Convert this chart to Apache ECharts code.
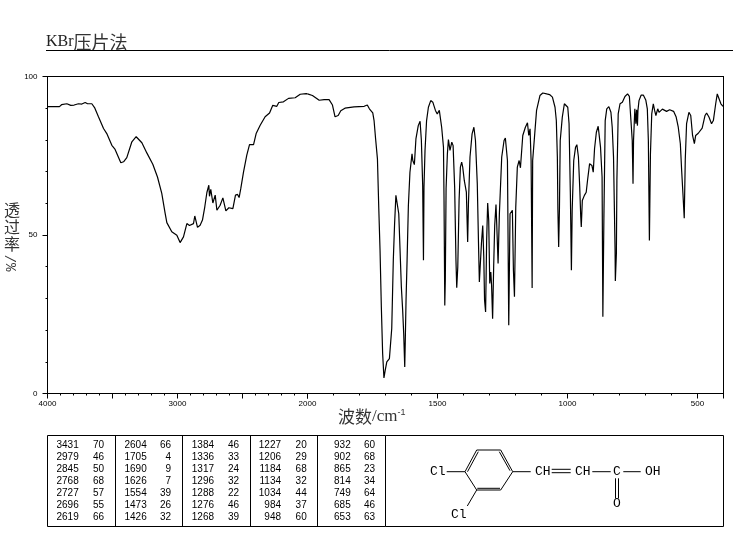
<!DOCTYPE html>
<html><head><meta charset="utf-8">
<style>html,body{margin:0;padding:0;background:#fff}#c{width:737px;height:539px}</style>
<script src="https://cdn.jsdelivr.net/npm/echarts@6/dist/echarts.min.js"></script>
</head><body><div id="c"></div>
<script>
// [wavenumber cm-1, transmittance %]
const spectrumHigh = [[4000,90.5],[3908,90.5],[3892,91.1],[3851,91.4],[3838,91.2],[3821,90.9],[3795,91.0],[3762,91.4],[3736,91.3],[3710,91.8],[3692,91.4],[3659,91.4],[3638,90.2],[3608,87.3],[3569,83.6],[3544,82.0],[3505,78.3],[3480,77.0],[3436,72.8],[3415,73.1],[3390,74.4],[3351,79.4],[3318,81.0],[3274,79.1],[3236,75.9],[3190,72.3],[3154,68.3],[3121,63.1],[3095,56.8],[3082,53.9],[3044,51.0],[3005,49.9],[2980,47.6],[2954,49.4],[2928,53.6],[2908,53.0],[2877,53.6],[2867,56.0],[2856,55.7],[2846,52.4],[2826,53.1],[2808,54.7],[2790,58.9],[2774,63.4],[2762,63.9],[2759,65.7],[2754,62.2],[2744,64.4],[2728,60.1],[2718,59.8],[2710,62.6],[2697,57.8],[2672,59.4],[2651,61.7],[2641,61.7],[2628,57.6],[2618,57.1],[2605,58.6],[2574,58.3],[2554,62.6],[2538,62.8],[2526,61.8],[2513,64.7],[2492,69.9],[2467,75.2],[2446,78.5],[2415,78.5],[2395,82.0],[2364,84.6],[2326,87.3],[2292,88.5],[2267,90.9],[2236,90.6],[2221,91.8],[2185,92.0],[2146,93.1],[2095,93.3],[2056,94.4],[2010,94.6],[2000,94.5]];
const spectrumLow = [[2000,94.5],[1981,94.0],[1955,92.5],[1936,92.7],[1917,92.7],[1904,91.0],[1894,87.3],[1882,87.7],[1872,89.2],[1856,90.0],[1821,90.4],[1782,90.6],[1770,91.0],[1762,89.8],[1749,88.5],[1744,86.1],[1738,80.3],[1731,74.0],[1726,58.8],[1721,45.2],[1716,27.3],[1711,12.6],[1706,4.9],[1701,7.4],[1695,10.0],[1685,11.0],[1676,20.5],[1670,42.0],[1665,53.6],[1660,62.5],[1654,62.5],[1649,56.7],[1644,45.2],[1639,33.6],[1634,26.3],[1630,18.9],[1626,8.4],[1624,16.3],[1621,29.4],[1617,42.0],[1612,59.3],[1606,69.8],[1598,75.6],[1595,73.5],[1589,72.2],[1583,80.3],[1574,84.5],[1567,85.9],[1562,79.8],[1557,65.6],[1554,42.0],[1552,65.1],[1548,76.7],[1542,86.1],[1535,90.3],[1526,92.4],[1518,91.9],[1508,89.3],[1501,88.2],[1493,89.3],[1484,84.0],[1477,77.7],[1475,62.0],[1472,27.8],[1470,35.7],[1467,64.6],[1462,75.6],[1458,80.1],[1452,76.7],[1445,79.3],[1440,78.2],[1434,65.1],[1429,42.0],[1426,33.4],[1422,39.9],[1417,60.9],[1412,71.4],[1407,73.0],[1403,71.4],[1397,67.2],[1389,63.5],[1384,47.8],[1381,59.9],[1375,74.6],[1367,81.9],[1360,84.0],[1354,79.8],[1347,66.2],[1342,46.2],[1339,35.2],[1334,34.7],[1331,47.3],[1326,53.0],[1322,43.1],[1319,29.4],[1315,25.7],[1311,48.3],[1307,60.1],[1303,54.6],[1299,34.7],[1295,38.3],[1292,34.1],[1288,23.6],[1284,39.9],[1280,53.0],[1275,59.6],[1272,53.0],[1267,41.0],[1262,56.7],[1253,74.6],[1244,79.8],[1239,80.6],[1231,73.5],[1226,21.5],[1221,56.7],[1212,57.8],[1208,38.9],[1204,30.5],[1199,58.8],[1193,71.4],[1186,73.5],[1181,71.2],[1172,81.4],[1162,84.0],[1154,85.4],[1149,81.4],[1144,83.5],[1140,73.5],[1136,33.3],[1134,73.5],[1125,83.0],[1119,89.3],[1106,94.0],[1095,94.8],[1080,94.5],[1069,94.3],[1058,93.5],[1048,90.3],[1043,86.1],[1039,74.6],[1037,58.3],[1034,46.2],[1031,58.3],[1028,79.8],[1020,87.2],[1012,91.4],[1007,91.7],[999,90.3],[994,85.1],[989,63.0],[985,38.9],[982,57.8],[976,73.5],[969,77.7],[964,78.5],[958,74.6],[953,65.1],[949,55.7],[947,52.5],[943,60.9],[935,62.5],[928,63.5],[923,67.2],[915,72.5],[910,73.0],[906,71.9],[901,69.8],[896,77.2],[889,82.4],[882,84.3],[876,84.3],[873,77.7],[867,68.3],[864,24.2],[860,55.7],[855,86.1],[849,89.8],[841,90.5],[833,88.7],[828,84.0],[823,74.6],[817,45.2],[816,35.5],[812,44.1],[810,67.2],[805,88.2],[798,91.4],[789,91.9],[779,93.7],[769,94.5],[762,93.7],[756,86.1],[751,79.8],[748,66.2],[746,79.8],[741,89.8],[737,85.1],[734,89.5],[731,84.5],[729,89.3],[725,92.4],[717,94.1],[708,94.1],[699,92.6],[693,89.8],[689,79.8],[685,48.3],[681,75.6],[676,88.2],[670,91.4],[665,89.3],[660,87.7],[653,89.8],[648,88.7],[635,89.7],[619,89.0],[612,88.4],[607,89.5],[592,89.0],[582,87.2],[574,84.0],[566,78.8],[561,70.4],[556,63.0],[551,55.3],[547,74.0],[542,85.1],[533,88.7],[526,87.7],[519,81.4],[512,78.8],[507,81.4],[497,82.1],[482,83.7],[471,87.7],[465,88.5],[456,87.2],[446,85.1],[439,86.1],[430,91.4],[424,94.5],[417,94.5],[410,91.4],[402,90.6],[400,90.6]];

const xMajorHigh = [4000,3500,3000,2500,2000];
const xLabelsHigh = [4000,3000,2000];
const xMajorLow = [2000,1500,1000,500,400];
const xLabelsLow = [1500,1000,500];
const yMajor = [0,50,100];

const tableWavenumbers = [
  ['3431','2979','2845','2768','2727','2696','2619'],
  ['2604','1705','1690','1626','1554','1473','1426'],
  ['1384','1336','1317','1296','1288','1276','1268'],
  ['1227','1206','1184','1134','1034','984','948'],
  ['932','902','865','814','749','685','653']];
const tableTransmittance = [
  ['70','46','50','68','57','55','66'],
  ['66','4','9','7','39','26','32'],
  ['46','33','24','32','22','46','39'],
  ['20','29','68','32','44','37','60'],
  ['60','68','23','34','64','46','63']];

const title = 'KBr';
const titleCn = '压片法';
const yNameCn = '透\n过\n率';
const yNameUnit = '%/';

const tickFont = {fontFamily:'Liberation Sans', fontSize:8, color:'#000', formatter:v=>String(v)};
const lineSt = {color:'#000', width:1};

function axisX(grid, min, max, extra){
  return Object.assign({type:'value', gridIndex:grid, min:min, max:max, inverse:true, position:'bottom',
    splitLine:{show:false}, axisLine:{show:true, onZero:false, lineStyle:lineSt},
    axisTick:{show:false}, axisLabel:{show:false}}, extra);
}
function axisY(grid, pos, extra){
  return Object.assign({type:'value', gridIndex:grid, min:0, max:100, position:pos,
    splitLine:{show:false}, axisLine:{show:true, onZero:false, lineStyle:lineSt},
    axisTick:{show:false}, axisLabel:{show:false}}, extra);
}

// graphic: frame texts, peak table and structure
const g = [];
function seg(x1,y1,x2,y2,w){ g.push({type:'line', silent:true, shape:{x1,y1,x2,y2}, style:{stroke:'#000', lineWidth:w||1}}); }
function txt(x,y,text,font,size,align,extra){
  g.push(Object.assign({type:'text', silent:true, x:x, y:y, style:{text:text, fontFamily:font, fontSize:size, fill:'#000', align:align||'left', verticalAlign:'middle'}}, extra||{}));
}
// title + underline
g.push({type:'text', silent:true, x:46, y:42, style:{
  text:'{a|'+title+'}{b|'+titleCn+'}', verticalAlign:'middle', align:'left',
  rich:{a:{fontFamily:'Liberation Serif', fontSize:16, fill:'#222', fontWeight:'normal'},
        b:{fontFamily:'Noto Sans CJK SC', fontSize:18, fill:'#333', fontWeight:'normal'}}}});
seg(46,50.5,733,50.5);
// axis names
g.push({type:'text', silent:true, x:12, y:227, style:{text:yNameCn, fontFamily:'Noto Sans CJK SC', fontSize:16, lineHeight:17, fill:'#333', align:'center', verticalAlign:'middle'}});
g.push({type:'text', silent:true, x:12, y:263, rotation:Math.PI/2, style:{text:yNameUnit, fontFamily:'Liberation Mono', fontSize:14, fill:'#333', align:'center', verticalAlign:'middle'}});
g.push({type:'text', silent:true, x:338, y:417, style:{
  text:'{a|波数}{b|/cm}{c|-1}', align:'left', verticalAlign:'middle',
  rich:{a:{fontFamily:'Noto Sans CJK SC', fontSize:17, fill:'#333'},
        b:{fontFamily:'Liberation Serif', fontSize:17, fill:'#333'},
        c:{fontFamily:'Liberation Sans', fontSize:9, fill:'#333', verticalAlign:'top'}}}});
// table
const tL=47.5,tR=723.5,tT=435.5,tB=526.5;
seg(tL,tT,tR,tT); seg(tL,tB,tR,tB); seg(tL,tT,tL,tB); seg(tR,tT,tR,tB);
[115.5,182.5,250.5,317.5,385.5].forEach(x=>seg(x,tT,x,tB));
const colA=[78.7,146.7,214,281,350.7], colB=[104,171,239,306.7,375];
const rowY=[445,457,469,481,493,505,517];
tableWavenumbers.forEach((col,i)=>col.forEach((v,j)=>{
  txt(colA[i],rowY[j],v,'Liberation Sans',10,'right');
  txt(colB[i],rowY[j],tableTransmittance[i][j],'Liberation Sans',10,'right');
}));
// structure
[[465,471.7,476.7,450],[476.7,450,500.7,450],[500.7,450,512.7,471.7],[512.7,471.7,500.7,490],[500.7,490,476.7,490],[476.7,490,465,471.7],
 [467.5,471.7,478.3,451.7],[499.3,451.7,510,470.7],[477.3,488.3,500,488.3],
 [446.7,471.7,465,471.7],[476.7,490,467.3,506],[512.7,471.7,530.7,471.7],
 [551.7,469.3,570.7,469.3],[551.7,472.7,570.7,472.7],[592.3,471.7,610.7,471.7],[623.3,471.7,640.7,471.7],
 [615.5,478.3,615.5,498.3],[618.5,478.3,618.5,498.3]].forEach(s=>seg(s[0],s[1],s[2],s[3]));
const mf='Liberation Mono';
txt(430,471.5,'Cl',mf,13); txt(451,515,'Cl',mf,13); txt(535,471.5,'CH',mf,13); txt(575,471.5,'CH',mf,13);
txt(613,471.5,'C',mf,13); txt(645,471.5,'OH',mf,13); txt(613,503.5,'O',mf,13);

const option = {
  backgroundColor:'#fff', animation:false,
  grid:[{left:47.5, top:76.5, width:260, height:317},{left:307.5, top:76.5, width:416, height:317}],
  xAxis:[
    axisX(0,2000,4000,{interval:100, axisTick:{show:true,length:2,lineStyle:lineSt}}),
    axisX(0,2000,4000,{axisTick:{show:true,length:5,customValues:xMajorHigh,lineStyle:lineSt},
      axisLabel:{show:true,customValues:xLabelsHigh,margin:6,...tickFont,showMinLabel:true,showMaxLabel:true}}),
    axisX(0,2000,4000,{position:'top'}),
    axisX(1,400,2000,{interval:100, axisTick:{show:true,length:2,lineStyle:lineSt}}),
    axisX(1,400,2000,{axisTick:{show:true,length:5,customValues:xMajorLow,lineStyle:lineSt},
      axisLabel:{show:true,customValues:xLabelsLow,margin:6,...tickFont}}),
    axisX(1,400,2000,{position:'top'})
  ],
  yAxis:[
    axisY(0,'left',{interval:10, axisTick:{show:true,length:2,lineStyle:lineSt}}),
    axisY(0,'left',{axisTick:{show:true,length:5,customValues:yMajor,lineStyle:lineSt},
      axisLabel:{show:true,customValues:yMajor,margin:10,...tickFont}}),
    axisY(1,'right',{})
  ],
  series:[
    {type:'line', xAxisIndex:0, yAxisIndex:0, data:spectrumHigh, showSymbol:false, smooth:false, silent:true, lineStyle:{color:'#000',width:1.2}},
    {type:'line', xAxisIndex:3, yAxisIndex:2, data:spectrumLow, showSymbol:false, smooth:false, silent:true, lineStyle:{color:'#000',width:1.2}}
  ],
  graphic:{elements:g}
};
echarts.init(document.getElementById('c'),null,{renderer:'canvas'}).setOption(option);
</script></body></html>
